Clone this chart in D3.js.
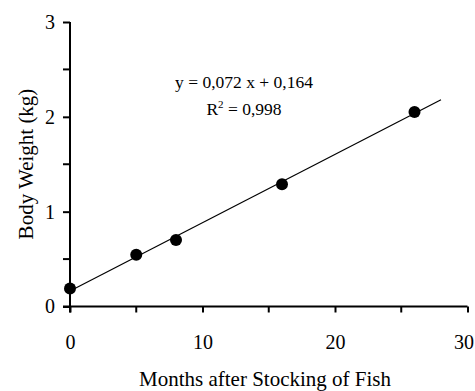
<!DOCTYPE html>
<html>
<head>
<meta charset="utf-8">
<script src="https://cdn.jsdelivr.net/npm/d3@7"></script>
<style>
  html, body { margin: 0; padding: 0; background: #fff; }
  svg { display: block; font-family: "Liberation Serif", "Times New Roman", serif; }
</style>
</head>
<body>
<svg id="chart" width="475" height="391"></svg>
<script>
// Fish body weight by months after stocking
const months = [0, 5, 8, 16, 26];
const weights = [0.19, 0.545, 0.70, 1.29, 2.05];
const slope = 0.072;
const intercept = 0.164;
const fitRange = [0, 28];
const xMajorTicks = [0, 10, 20, 30];
const xMinorTicks = [5, 15, 25];
const yMajorTicks = [0, 1, 2, 3];
const yMinorTicks = [0.5, 1.5, 2.5];
const equationText = "y = 0,072 x + 0,164";
const r2Value = "0,998";

const svg = d3.select("#chart");
const margin = { left: 70, right: 7.5, top: 22, bottom: 84.5 };
const W = 475, H = 391;
const FONT = "Liberation Serif, Times New Roman, serif";

const x = d3.scaleLinear().domain([0, 30]).range([margin.left, W - margin.right]);
const y = d3.scaleLinear().domain([0, 3]).range([H - margin.bottom, margin.top]);

// Axes
const xAxis = svg.append("g")
  .attr("transform", `translate(0,${y(0)})`)
  .call(d3.axisBottom(x).tickValues(xMajorTicks).tickSize(6).tickPadding(22).tickFormat(d3.format("d")));
xAxis.append("g").selectAll("line").data(xMinorTicks).join("line")
  .attr("x1", d => x(d)).attr("x2", d => x(d)).attr("y1", 0).attr("y2", 6)
  .attr("stroke", "#000").attr("stroke-width", 2);

const yAxis = svg.append("g")
  .attr("transform", `translate(${x(0)},0)`)
  .call(d3.axisLeft(y).tickValues(yMajorTicks).tickSize(7).tickPadding(8).tickFormat(d3.format("d")));
yAxis.append("g").selectAll("line").data(yMinorTicks).join("line")
  .attr("x1", -7).attr("x2", 0).attr("y1", d => y(d)).attr("y2", d => y(d))
  .attr("stroke", "#000").attr("stroke-width", 2);

[xAxis, yAxis].forEach(g => {
  g.attr("font-family", FONT).attr("font-size", 20);
  g.select(".domain").attr("stroke", "#000").attr("stroke-width", 2);
  g.selectAll(".tick line").attr("stroke", "#000").attr("stroke-width", 2);
  g.selectAll(".tick text").attr("font-size", 20).attr("fill", "#000");
});
xAxis.select(".domain").attr("d", `M${x(0) - 7},0H${x(30)}`);
yAxis.select(".domain").attr("d", `M0,${y(3)}V${y(0) + 6}`);
// keep the last x label inside the frame
xAxis.selectAll(".tick text").filter(d => d === 30).attr("dx", -4);

// Regression line
svg.append("line")
  .attr("x1", x(fitRange[0])).attr("y1", y(slope * fitRange[0] + intercept))
  .attr("x2", x(fitRange[1])).attr("y2", y(slope * fitRange[1] + intercept))
  .attr("stroke", "#000").attr("stroke-width", 1.2);

// Observations
svg.append("g").selectAll("circle").data(months.map((m, i) => [m, weights[i]])).join("circle")
  .attr("cx", d => x(d[0])).attr("cy", d => y(d[1])).attr("r", 6).attr("fill", "#000");

// Equation annotation
svg.append("text").attr("x", 244).attr("y", 88).attr("text-anchor", "middle")
  .attr("font-size", 17.5).text(equationText);
const r2 = svg.append("text").attr("x", 244).attr("y", 115).attr("text-anchor", "middle")
  .attr("font-size", 17.5);
r2.append("tspan").text("R");
r2.append("tspan").attr("font-size", 11).attr("dy", -7).text("2");
r2.append("tspan").attr("dy", 7).text(" = " + r2Value);

// Axis titles
svg.append("text").attr("x", 265).attr("y", 385.5).attr("text-anchor", "middle")
  .attr("font-size", 21).text("Months after Stocking of Fish");
svg.append("text").attr("transform", "translate(33,164) rotate(-90)").attr("text-anchor", "middle")
  .attr("font-size", 21).text("Body Weight (kg)");
</script>
</body>
</html>
